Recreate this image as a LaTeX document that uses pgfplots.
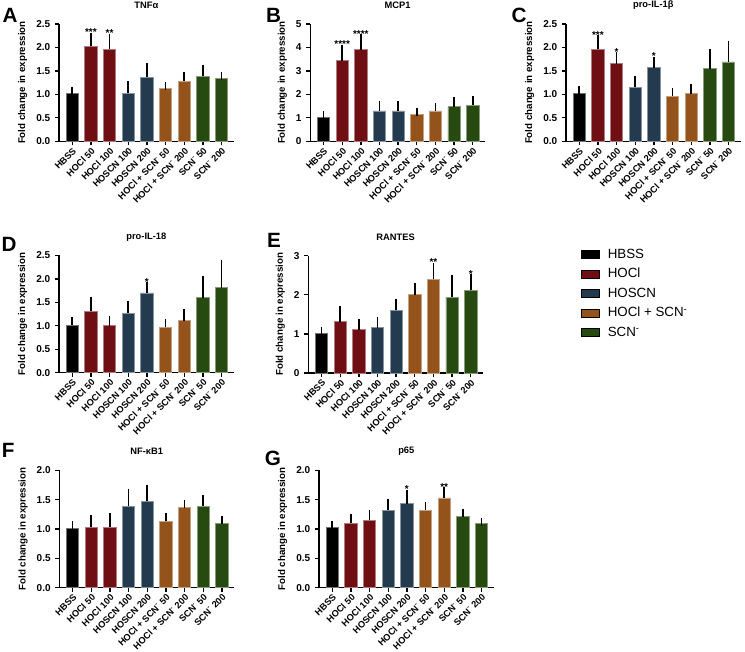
\documentclass[border=0pt]{standalone}
\usepackage{fontspec}
\setmainfont{Liberation Sans}
\usepackage{pgfplots}
\pgfplotsset{compat=1.18}

\definecolor{cHBSS}{RGB}{0,0,0}
\definecolor{cHOCl}{RGB}{111,15,20}
\definecolor{cHOSCN}{RGB}{36,59,79}
\definecolor{cMix}{RGB}{147,83,27}
\definecolor{cSCN}{RGB}{38,74,15}

\newcommand{\tf}{\bfseries\fontsize{7.5}{8.5}\selectfont}
\newcommand{\xf}{\bfseries\fontsize{6.9}{8}\selectfont}
\newcommand{\lf}{\bfseries\fontsize{7.3}{8.5}\selectfont}
\newcommand{\ttf}{\bfseries\fontsize{7}{8}\selectfont}

\pgfplotsset{
  panel/.style={
    scale only axis, width=131pt, height=88pt, anchor=south west,
    axis x line*=bottom, axis y line*=left,
    axis line style={-, line width=1.1pt, black},
    xmin=-0.71, xmax=8.65, ymin=0, clip=false,
    xtick={0,...,8},
    xticklabels={HBSS, HOCl 50, HOCl 100, HOSCN 100, HOSCN 200, HOCl + SCN\textsuperscript{-} 50, HOCl + SCN\textsuperscript{-} 200, SCN\textsuperscript{-} 50, SCN\textsuperscript{-} 200},
    xticklabel style={rotate=45, anchor=north east, font=\xf, inner sep=0.8pt},
    yticklabel style={font=\tf},
    tick align=outside, major tick length=3pt,
    tick style={line width=1pt, black},
    ylabel={Fold change in expression}, ylabel style={font=\lf},
    title style={at={(0.5,1)}, anchor=center, yshift=8pt, font=\ttf},
    /pgf/number format/assume math mode=true,
  },
  bars/.style={ybar, bar width=0.66, bar shift=0pt, fill=#1, draw=#1!55!white, line width=0.6pt,
    error bars/.cd, y dir=plus, y explicit,
    error bar style={black, line width=1.2pt},
    error mark options={black, line width=1.2pt, mark size=3pt}},
  stars/.style={draw=none, mark=none, nodes near coords, point meta=explicit symbolic,
    nodes near coords style={anchor=south, font=\tf, inner sep=0.5pt}},
  dec1/.style={yticklabel style={/pgf/number format/.cd, fixed, fixed zerofill, precision=1}},
}

\begin{document}
\begin{tikzpicture}
\useasboundingbox (0,0) rectangle (558.75pt,488.25pt);

% ---------- A ----------
\begin{axis}[panel, dec1, at={(44.25pt,382.3pt)}, ymax=2.5, ytick={0,0.5,1,1.5,2,2.5}, title={TNFα}]
\addplot[bars=cHBSS] coordinates {(0,1.01) +- (0,0.07)};
\addplot[bars=cHOCl] coordinates {(1,2.02) +- (0,0.21) (2,1.96) +- (0,0.25)};
\addplot[bars=cHOSCN] coordinates {(3,1.02) +- (0,0.17) (4,1.36) +- (0,0.22)};
\addplot[bars=cMix] coordinates {(5,1.12) +- (0,0.06) (6,1.28) +- (0,0.11)};
\addplot[bars=cSCN] coordinates {(7,1.38) +- (0,0.17) (8,1.33) +- (0,0.06)};
\addplot[stars] coordinates {(1,2.23) [***] (2,2.21) [**]};
\end{axis}

% ---------- B ----------
\begin{axis}[panel, at={(232.7pt,382.3pt)}, ymax=5, ytick={0,1,2,3,4,5}, title={MCP1}]
\addplot[bars=cHBSS] coordinates {(0,1.03) +- (0,0.10)};
\addplot[bars=cHOCl] coordinates {(1,3.43) +- (0,0.51) (2,3.90) +- (0,0.48)};
\addplot[bars=cHOSCN] coordinates {(3,1.29) +- (0,0.27) (4,1.29) +- (0,0.27)};
\addplot[bars=cMix] coordinates {(5,1.15) +- (0,0.10) (6,1.29) +- (0,0.15)};
\addplot[bars=cSCN] coordinates {(7,1.47) +- (0,0.26) (8,1.54) +- (0,0.20)};
\addplot[stars] coordinates {(1,3.94) [****] (2,4.38) [****]};
\end{axis}

% ---------- C ----------
\begin{axis}[panel, dec1, at={(424.5pt,382.3pt)}, ymax=2.5, ytick={0,0.5,1,1.5,2,2.5}, title={pro-IL-1β}]
\addplot[bars=cHBSS] coordinates {(0,1.01) +- (0,0.08)};
\addplot[bars=cHOCl] coordinates {(1,1.96) +- (0,0.21) (2,1.65) +- (0,0.16)};
\addplot[bars=cHOSCN] coordinates {(3,1.15) +- (0,0.16) (4,1.57) +- (0,0.15)};
\addplot[bars=cMix] coordinates {(5,0.96) +- (0,0.10) (6,1.01) +- (0,0.13)};
\addplot[bars=cSCN] coordinates {(7,1.55) +- (0,0.34) (8,1.69) +- (0,0.37)};
\addplot[stars] coordinates {(1,2.17) [***] (2,1.81) [*] (4,1.72) [*]};
\end{axis}

% ---------- D ----------
\begin{axis}[panel, dec1, at={(44.25pt,208.7pt)}, ymax=2.5, ytick={0,0.5,1,1.5,2,2.5}, title={pro-IL-18}]
\addplot[bars=cHBSS] coordinates {(0,1.01) +- (0,0.09)};
\addplot[bars=cHOCl] coordinates {(1,1.31) +- (0,0.22) (2,1.00) +- (0,0.13)};
\addplot[bars=cHOSCN] coordinates {(3,1.27) +- (0,0.18) (4,1.70) +- (0,0.14)};
\addplot[bars=cMix] coordinates {(5,0.97) +- (0,0.09) (6,1.11) +- (0,0.16)};
\addplot[bars=cSCN] coordinates {(7,1.60) +- (0,0.37) (8,1.81) +- (0,0.50)};
\addplot[stars] coordinates {(4,1.84) [*]};
\end{axis}

% ---------- E ----------
\begin{axis}[panel, at={(231.2pt,208.5pt)}, ymax=3, ytick={0,1,2,3}, title={RANTES}]
\addplot[bars=cHBSS] coordinates {(0,1.01) +- (0,0.07)};
\addplot[bars=cHOCl] coordinates {(1,1.31) +- (0,0.30) (2,1.11) +- (0,0.17)};
\addplot[bars=cHOSCN] coordinates {(3,1.16) +- (0,0.17) (4,1.60) +- (0,0.20)};
\addplot[bars=cMix] coordinates {(5,2.00) +- (0,0.19) (6,2.40) +- (0,0.32)};
\addplot[bars=cSCN] coordinates {(7,1.94) +- (0,0.46) (8,2.11) +- (0,0.31)};
\addplot[stars] coordinates {(6,2.72) [**] (8,2.42) [*]};
\end{axis}

% ---------- F ----------
\begin{axis}[panel, dec1, at={(44.5pt,47.5pt)}, ymax=2, ytick={0,0.5,1,1.5,2}, title={NF-κB1}]
\addplot[bars=cHBSS] coordinates {(0,1.01) +- (0,0.06)};
\addplot[bars=cHOCl] coordinates {(1,1.03) +- (0,0.14) (2,1.03) +- (0,0.17)};
\addplot[bars=cHOSCN] coordinates {(3,1.39) +- (0,0.23) (4,1.47) +- (0,0.22)};
\addplot[bars=cMix] coordinates {(5,1.13) +- (0,0.08) (6,1.36) +- (0,0.06)};
\addplot[bars=cSCN] coordinates {(7,1.39) +- (0,0.12) (8,1.09) +- (0,0.06)};
\end{axis}

% ---------- G ----------
\begin{axis}[panel, dec1, at={(239.25pt,47.5pt)}, ymax=2, ytick={0,0.5,1,1.5,2}, title={p65}]
\addplot[bars=cHBSS] coordinates {(0,1.02) +- (0,0.05)};
\addplot[bars=cHOCl] coordinates {(1,1.10) +- (0,0.09) (2,1.15) +- (0,0.10)};
\addplot[bars=cHOSCN] coordinates {(3,1.32) +- (0,0.12) (4,1.43) +- (0,0.17)};
\addplot[bars=cMix] coordinates {(5,1.32) +- (0,0.07) (6,1.53) +- (0,0.11)};
\addplot[bars=cSCN] coordinates {(7,1.22) +- (0,0.06) (8,1.10) +- (0,0.02)};
\addplot[stars] coordinates {(4,1.60) [*] (6,1.64) [**]};
\end{axis}

% ---------- Legend ----------
\begin{axis}[hide axis, scale only axis, width=60pt, height=60pt,
  at={(435.75pt,303.75pt)}, anchor=north west,
  xmin=0, xmax=1, ymin=0, ymax=1,
  legend style={at={(0,1)}, anchor=north west, draw=none, fill=none,
    inner sep=0pt, font=\fontsize{10}{12}\selectfont, row sep=2pt, column sep=4pt,
    cells={anchor=west}},
  legend image code/.code={\fill[#1] (0pt,-3pt) rectangle (13.5pt,3pt);},
]
\addlegendimage{fill=cHBSS}
\addlegendentry{HBSS}
\addlegendimage{fill=cHOCl}
\addlegendentry{HOCl}
\addlegendimage{fill=cHOSCN}
\addlegendentry{HOSCN}
\addlegendimage{fill=cMix}
\addlegendentry{HOCl + SCN\textsuperscript{-}}
\addlegendimage{fill=cSCN}
\addlegendentry{SCN\textsuperscript{-}}
\end{axis}

% ---------- Panel letters ----------
\begin{scope}[every node/.style={font=\bfseries\fontsize{15.5}{16}\selectfont, inner sep=0pt}]
\node at (7.5pt,476.4pt) {A};
\node at (205.1pt,476.4pt) {B};
\node at (389.25pt,476.4pt) {C};
\node at (6.75pt,305.25pt) {D};
\node at (205.5pt,307.9pt) {E};
\node at (6.2pt,150.4pt) {F};
\node at (204.75pt,144.75pt) {G};
\end{scope}
\end{tikzpicture}
\end{document}
